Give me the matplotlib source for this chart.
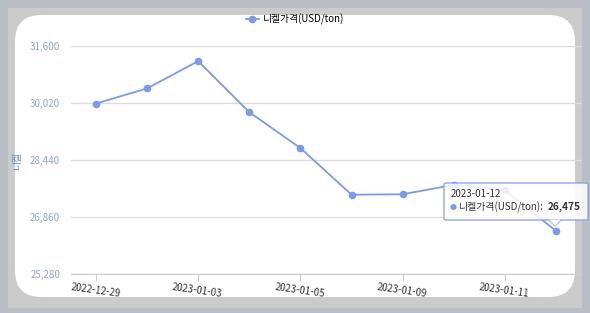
import matplotlib.pyplot as plt
from matplotlib.patches import FancyBboxPatch, Rectangle, Polygon
from matplotlib.lines import Line2D

plt.rcParams['font.family'] = ['Noto Sans CJK KR', 'DejaVu Sans']

dates = ['2022-12-29', '2022-12-30', '2023-01-03', '2023-01-04', '2023-01-05',
         '2023-01-06', '2023-01-09', '2023-01-10', '2023-01-11', '2023-01-12']
prices = [30005, 30425, 31180, 29765, 28770, 27478, 27490, 27750, 27600, 26475]
yticks = [25280, 26860, 28440, 30020, 31600]
series_name = '니켈가격(USD/ton)'
line_color = '#7b9be6'

W, H = 590, 313


def fx(px):
    return px / W


def fy(py):
    return 1 - py / H


fig = plt.figure(figsize=(W / 100, H / 100), dpi=100, facecolor='#b8bdc6')
fig.patches.append(Rectangle((fx(8), fy(308)), fx(574), 300 / H,
                             transform=fig.transFigure, facecolor='#cbcbcb',
                             edgecolor='none', zorder=-3))
fig.patches.append(FancyBboxPatch((fx(15), fy(297)), fx(560), 282 / H,
                                  boxstyle='round,pad=0,rounding_size=0.045',
                                  transform=fig.transFigure, facecolor='white',
                                  edgecolor='none', zorder=-2,
                                  mutation_aspect=W / H))

ax = fig.add_axes([fx(70.5), fy(274), fx(511), (274 - 46) / H])
ax.patch.set_alpha(0)
x = list(range(len(dates)))
ax.plot(x, prices, color=line_color, lw=1.3, marker='o', ms=4.5,
        zorder=3, clip_on=False)
ax.set_xlim(-0.5, 9.5)
ax.set_ylim(yticks[0], yticks[-1])
ax.set_yticks(yticks)
ax.set_yticklabels([f'{v:,}' for v in yticks], color='#8ea2dc', fontsize=7)
ax.set_xticks(x[::2])
ax.set_xticklabels(dates[::2], rotation=-8, fontsize=7, color='#333333',
                   ha='center', rotation_mode='anchor')
ax.tick_params(axis='y', length=0, pad=7.5)
ax.tick_params(axis='x', length=5, color='#cccccc', pad=3)
ax.grid(axis='y', color='#dcdcdc', lw=1)
for s in ['top', 'right', 'left']:
    ax.spines[s].set_visible(False)
ax.spines['bottom'].set_color('#cccccc')
ax.set_axisbelow(True)

fig.text(fx(17), fy(160), '니켈', rotation=90, color='#6f87c9', fontsize=7,
         ha='center', va='center')

handle = Line2D([], [], color=line_color, lw=1.3, marker='o', ms=4.5)
fig.legend([handle], [series_name], loc='center',
           bbox_to_anchor=(fx(295), fy(19)), frameon=False, fontsize=7,
           handlelength=1.4, handletextpad=0.4)

# tooltip
fig.patches.append(FancyBboxPatch((fx(444), fy(220)), fx(144), 37 / H,
                                  boxstyle='round,pad=0,rounding_size=0.004',
                                  transform=fig.transFigure, facecolor='white',
                                  alpha=0.85, edgecolor=line_color, lw=1,
                                  zorder=5))
fig.patches.append(Polygon([(fx(549), fy(219.6)), (fx(561), fy(219.6)),
                            (fx(555), fy(226))], closed=True,
                           transform=fig.transFigure, facecolor='white',
                           edgecolor='none', zorder=6))
fig.lines.append(Line2D([fx(549), fx(555), fx(561)],
                        [fy(220), fy(226), fy(220)], color=line_color, lw=0.8,
                        transform=fig.transFigure, zorder=6))
fig.text(fx(451), fy(194), dates[-1], fontsize=7, color='#333333',
         va='center', zorder=7)
fig.text(fx(450), fy(208), '●', fontsize=5, color=line_color,
         va='center', zorder=7)
fig.text(fx(459), fy(207), series_name + ':', fontsize=7.1, color='#333333',
         va='center', zorder=7)
fig.text(fx(581), fy(207), f'{prices[-1]:,}', fontsize=7.3, color='#333333',
         va='center', ha='right', fontweight='bold', zorder=7)

fig.savefig('out.png', dpi=100, facecolor=fig.get_facecolor())
